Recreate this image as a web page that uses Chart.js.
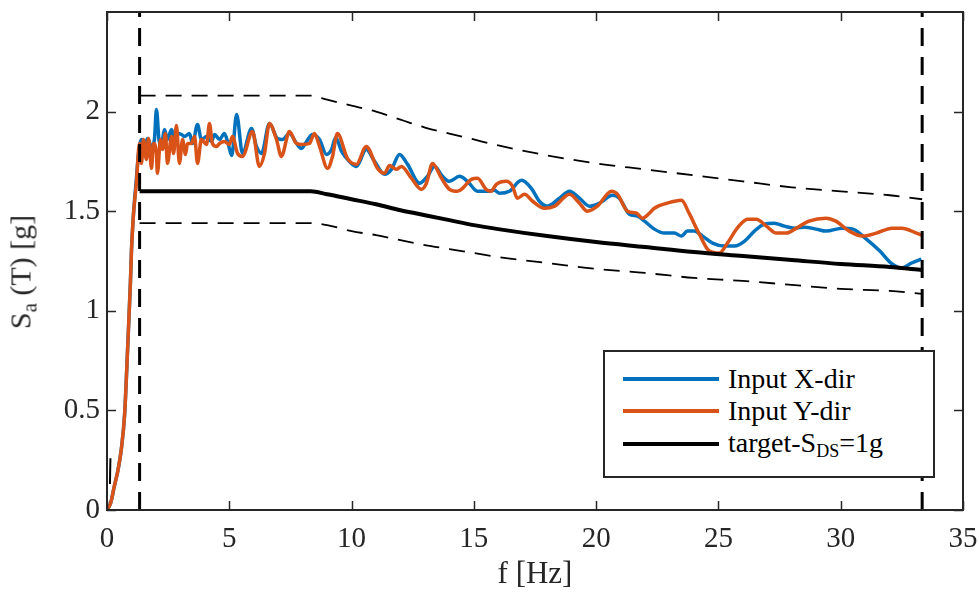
<!DOCTYPE html>
<html><head><meta charset="utf-8">
<script src="https://cdn.jsdelivr.net/npm/chart.js@4/dist/chart.umd.min.js"></script>
<style>
html,body{margin:0;padding:0;background:#fff;}
#wrap{position:relative;width:979px;height:594px;overflow:hidden;background:#fff;}
#c{position:absolute;left:0;top:0;}
#ytitle{position:absolute;left:23px;top:272px;transform:translate(-50%,-50%) rotate(-90deg);font-family:'Liberation Serif',serif;font-size:30px;color:#262626;white-space:nowrap;line-height:1;}
#ytitle sub{font-size:21px;vertical-align:-6px;}
#legend{position:absolute;left:603px;top:350px;width:328px;height:124px;border:2px solid #262626;background:#fff;font-family:'Liberation Serif',serif;font-size:28px;color:#000;}
.row{position:absolute;left:0;height:32px;display:flex;align-items:center;}
.sw{display:inline-block;width:96px;height:4px;margin-left:18px;margin-right:9px;}
.row sub{font-size:18px;vertical-align:-5px;}
</style></head><body>
<div id="wrap">
<canvas id="c" width="979" height="594"></canvas>
<div id="ytitle">S<sub>a</sub> (T) [g]</div>
<div id="legend">
 <div class="row" style="top:11px"><span class="sw" style="background:#0072BD"></span><span id="l0"></span></div>
 <div class="row" style="top:43px"><span class="sw" style="background:#D95319"></span><span id="l1"></span></div>
 <div class="row" style="top:76px"><span class="sw" style="background:#000"></span><span>target-S<sub>DS</sub>=1g</span></div>
</div>
</div>
<script>
// ---- data ----
const xTicks = [0,5,10,15,20,25,30,35];
const xTickLabels = ['0','5','10','15','20','25','30','35'];
const yTicks = [0,0.5,1,1.5,2];
const yTickLabels = ['0','0.5','1','1.5','2'];
const seriesNames = ['Input X-dir','Input Y-dir','target-SDS=1g'];

const riseF = [0,0.15,0.3,0.45,0.59,0.72,0.84,0.96,1.0,1.08];
const riseY = [0,0.035,0.12,0.2,0.31,0.48,0.8,1.15,1.3,1.48];

const xDirF = [1.2,1.28,1.41,1.53,1.66,1.82,1.94,2.02,2.15,2.27,2.35,2.47,2.64,2.76,2.88,3.05,3.17,3.37,3.5,3.7,3.86,4.07,4.27,4.4,4.6,4.8,4.95,5.1,5.3,5.54,5.91,6.11,6.32,6.64,6.97,7.17,7.46,7.75,7.95,8.16,8.4,8.69,8.97,9.18,9.35,9.59,9.91,10.2,10.6,10.94,11.35,11.63,11.96,12.29,12.78,13.1,13.39,13.72,14.0,14.41,14.74,15.15,15.56,15.84,16.05,16.45,16.95,17.35,17.68,18.0,18.5,18.91,19.32,19.73,20.13,20.67,20.95,21.36,21.69,21.98,22.38,22.79,23.2,23.49,23.73,24.02,24.35,24.76,25.25,25.66,26.07,26.47,26.88,27.29,27.7,28.11,28.52,29.0,29.4,30.07,30.5,31.0,31.6,32.1,32.48,32.9,33.3];
const xDirY = [1.66,1.78,1.86,1.825,1.865,1.825,1.86,2.01,1.84,1.86,1.91,1.86,1.91,1.86,1.89,1.885,1.875,1.89,1.84,1.935,1.86,1.875,1.85,1.885,1.86,1.89,1.84,1.78,1.985,1.79,1.915,1.825,1.79,1.94,1.865,1.86,1.89,1.84,1.815,1.85,1.885,1.86,1.785,1.81,1.87,1.80,1.75,1.725,1.81,1.75,1.685,1.71,1.785,1.735,1.64,1.675,1.725,1.675,1.65,1.675,1.65,1.60,1.60,1.605,1.59,1.60,1.655,1.615,1.55,1.525,1.565,1.60,1.565,1.525,1.54,1.58,1.565,1.485,1.475,1.45,1.41,1.39,1.39,1.375,1.40,1.40,1.375,1.34,1.325,1.325,1.35,1.40,1.435,1.44,1.425,1.415,1.42,1.41,1.40,1.415,1.41,1.365,1.30,1.235,1.215,1.24,1.26];

const yDirF = [1.2,1.33,1.41,1.49,1.61,1.7,1.82,1.9,2.02,2.06,2.19,2.27,2.39,2.47,2.64,2.72,2.84,2.96,3.09,3.21,3.29,3.45,3.58,3.7,3.86,4.07,4.19,4.31,4.48,4.6,4.8,5.0,5.13,5.34,5.54,5.95,6.23,6.44,6.64,6.93,7.13,7.46,7.75,7.99,8.28,8.48,8.69,9.02,9.22,9.42,9.83,10.2,10.6,11.06,11.35,11.55,11.83,12.04,12.45,12.86,13.06,13.31,13.68,14.0,14.33,14.54,14.9,15.15,15.5,15.7,15.92,16.33,16.58,16.78,17.07,17.4,17.89,18.3,18.91,19.32,19.64,20.05,20.63,20.87,21.28,21.65,21.89,22.18,22.38,22.9,23.49,23.8,24.2,24.63,25.04,25.37,25.77,26.19,26.55,26.96,27.37,27.78,28.19,28.7,29.4,29.8,30.35,30.9,31.45,32.1,32.5,33.1,33.3];
const yDirY = [1.64,1.84,1.74,1.86,1.76,1.865,1.715,1.84,1.79,1.69,1.86,1.81,1.89,1.74,1.875,1.79,1.93,1.74,1.86,1.785,1.84,1.84,1.875,1.74,1.86,1.835,1.94,1.84,1.825,1.84,1.85,1.835,1.875,1.79,1.775,1.90,1.725,1.79,1.94,1.86,1.775,1.90,1.84,1.835,1.84,1.89,1.825,1.715,1.775,1.89,1.765,1.735,1.825,1.715,1.69,1.73,1.71,1.725,1.665,1.61,1.64,1.74,1.665,1.61,1.60,1.615,1.66,1.665,1.61,1.60,1.635,1.65,1.625,1.565,1.585,1.55,1.515,1.525,1.585,1.54,1.50,1.525,1.60,1.585,1.50,1.49,1.465,1.49,1.515,1.54,1.555,1.49,1.39,1.30,1.29,1.34,1.415,1.46,1.46,1.425,1.39,1.39,1.415,1.45,1.465,1.45,1.40,1.375,1.39,1.415,1.415,1.39,1.38];

const targetF = [1.333,8.33,9,10,11,12,13,14,15,16,18,20,22,24,26,28,30,32,33.33];
const targetY = [1.6,1.6,1.585,1.56,1.535,1.505,1.48,1.455,1.43,1.41,1.375,1.345,1.32,1.295,1.275,1.255,1.235,1.22,1.205];
const upperY  = [2.08,2.08,2.06,2.03,2.0,1.96,1.92,1.89,1.86,1.83,1.78,1.74,1.71,1.68,1.65,1.62,1.60,1.58,1.56];
const lowerY  = [1.44,1.44,1.43,1.40,1.38,1.355,1.33,1.31,1.29,1.27,1.24,1.21,1.19,1.165,1.15,1.13,1.11,1.10,1.085];

const limitF = [1.333,33.33];      // vertical dashed frequency limits
const limitSpan = [0,2.5];
const markF = [0.12,0.14];          // small black mark near origin
const markY = [0.13,0.26];

// ---- build ----
const pts = (fs, ys) => fs.map((f,i)=>({x:f,y:ys[i]}));
const FONT = "Liberation Serif";
Chart.defaults.font.family = FONT;
document.getElementById('l0').textContent = seriesNames[0];
document.getElementById('l1').textContent = seriesNames[1];

const boxTicks = {
  id:'boxTicks',
  afterDraw(chart){
    const {ctx, chartArea:a, scales:{x,y}} = chart;
    ctx.save();
    ctx.strokeStyle = '#262626';
    ctx.lineWidth = 1.5;
    ctx.beginPath();
    xTicks.forEach(v=>{const p=Math.round(x.getPixelForValue(v))+0.5;
      ctx.moveTo(p,a.bottom); ctx.lineTo(p,a.bottom-9);
      ctx.moveTo(p,a.top); ctx.lineTo(p,a.top+9);});
    yTicks.forEach(v=>{const p=Math.round(y.getPixelForValue(v))+0.5;
      ctx.moveTo(a.left,p); ctx.lineTo(a.left+9,p);
      ctx.moveTo(a.right,p); ctx.lineTo(a.right-9,p);});
    ctx.stroke();
    ctx.lineWidth = 2;
    ctx.strokeRect(a.left, a.top, a.right-a.left, a.bottom-a.top);
    ctx.restore();
  }
};

function build(){
const common = {showLine:true, pointRadius:0, fill:false, cubicInterpolationMode:'monotone'};
new Chart(document.getElementById('c'), {
  type:'scatter',
  data:{datasets:[
    {...common, label:'limit-low', data:pts([limitF[0],limitF[0]],limitSpan), borderColor:'#000', borderWidth:3, borderDash:[18,11], order:0, cubicInterpolationMode:'default', tension:0},
    {...common, label:'limit-high', data:pts([limitF[1],limitF[1]],limitSpan), borderColor:'#000', borderWidth:3, borderDash:[18,11], order:0, cubicInterpolationMode:'default', tension:0},
    {...common, label:seriesNames[2], data:pts(targetF,targetY), borderColor:'#000', borderWidth:4, order:1},
    {...common, label:seriesNames[1], data:pts(riseF.concat(yDirF), riseY.concat(yDirY)), borderColor:'#D95319', borderWidth:3.5, order:2},
    {...common, label:seriesNames[0], data:pts(riseF.concat(xDirF), riseY.concat(xDirY)), borderColor:'#0072BD', borderWidth:3.5, order:3},
    {...common, label:'upper', data:pts(targetF,upperY), borderColor:'#000', borderWidth:1.8, borderDash:[16,10], order:4},
    {...common, label:'lower', data:pts(targetF,lowerY), borderColor:'#000', borderWidth:1.8, borderDash:[16,10], order:4},
    {...common, label:'mark', data:pts(markF,markY), borderColor:'#000', borderWidth:2, order:4}
  ]},
  options:{
    responsive:false, animation:false, devicePixelRatio:1,
    layout:{padding:{top:12,right:16,left:0,bottom:0}},
    plugins:{legend:{display:false}, tooltip:{enabled:false}},
    scales:{
      x:{type:'linear', min:0, max:35,
        afterBuildTicks:s=>{s.ticks = xTicks.map(v=>({value:v}));},
        afterFit:s=>{s.height = 84; s.paddingLeft = 0; s.paddingRight = 0;},
        grid:{display:false, drawTicks:false}, border:{display:false},
        ticks:{padding:12, color:'#262626', font:{family:FONT,size:29}, maxRotation:0, autoSkip:false,
          callback:(v,i)=>xTickLabels[i]},
        title:{display:true, text:'f [Hz]', color:'#262626', font:{family:FONT,size:31}, padding:{top:0,bottom:1}}
      },
      y:{type:'linear', min:0, max:2.5,
        afterBuildTicks:s=>{s.ticks = yTicks.map(v=>({value:v}));},
        afterFit:s=>{s.width = 107; s.paddingTop = 0; s.paddingBottom = 0;},
        grid:{display:false, drawTicks:false}, border:{display:false},
        ticks:{padding:7, color:'#262626', font:{family:FONT,size:29}, autoSkip:false,
          callback:(v,i)=>yTickLabels[i]}
      }
    }
  },
  plugins:[boxTicks]
});
}
if (document.fonts && document.fonts.load) {
  document.fonts.load("29px 'Liberation Serif'").then(build, build);
} else { build(); }
</script>
</body></html>
